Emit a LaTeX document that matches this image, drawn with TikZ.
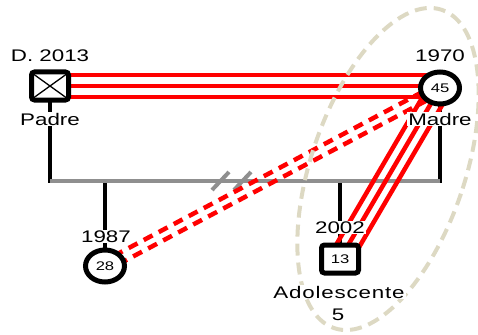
\documentclass[tikz,border=0pt]{standalone}
\usepackage{fontspec}
\setmainfont{Liberation Sans}[FakeStretch=1.33]
\usetikzlibrary{calc,shapes.geometric,backgrounds}

\definecolor{relred}{HTML}{FF0000}
\definecolor{linegray}{HTML}{8F8F8F}
\definecolor{zonetan}{HTML}{DDD9C3}

\tikzset{
  male/.style={draw=black, fill=white, line width=5pt, rectangle, rounded corners=3pt,
    minimum width=37pt, minimum height=28pt, inner sep=0pt,
    font=\fontsize{12.5}{14}\selectfont},
  female/.style={draw=black, fill=white, line width=5pt, ellipse,
    minimum width=39pt, minimum height=32pt, inner sep=0pt,
    font=\fontsize{12.5}{14}\selectfont},
  lbl/.style={fill=white, inner sep=1pt, font=\fontsize{16.8}{19}\selectfont},
  plainlbl/.style={inner sep=1pt, font=\fontsize{16.8}{19}\selectfont},
  kin/.style={draw=black, line width=4pt},
  sibline/.style={draw=linegray, line width=4pt},
  bond/.style={draw=relred, line width=4.5pt},
  weakbond/.style={draw=relred, line width=4.5pt, dash pattern=on 10pt off 7pt},
  zone/.style={draw=zonetan, line width=4pt, dash pattern=on 12pt off 7pt},
}

\begin{document}
\begin{tikzpicture}[x=1pt, y=-1pt]
  \useasboundingbox (0,0) rectangle (478,334);

  % family members
  \node[male]   (padre) at (50,86)   {};
  \node[female] (madre) at (440,88)  {45};
  \node[female] (hija)  at (105,266) {28};
  \node[male]   (hijo)  at (340,259) {13};

  % deceased mark in the father's box
  \draw[line width=1.3pt] ($(padre.center)+(-16,-11.5)$) -- ($(padre.center)+(16,11.5)$);
  \draw[line width=1.3pt] ($(padre.center)+(-16,11.5)$) -- ($(padre.center)+(16,-11.5)$);

  % junction points on the sibling line
  \coordinate (jl) at (50,181);
  \coordinate (jr) at (440,181);
  \coordinate (jhija) at (105,181);
  \coordinate (jhijo) at (340,181);

  \begin{pgfonlayer}{background}
    % descent lines
    \draw[kin] (padre.center) -- ($(jl)+(0,2)$);
    \draw[kin] (madre.center) -- ($(jr)+(0,2)$);
    \draw[kin] (jhija) -- (hija.center);
    \draw[kin] (jhijo) -- (hijo.center);
    \draw[sibline] (jl) -- (jr);
    % separation marks
    \draw[sibline] (212,190) -- (229,172);
    \draw[sibline] (234,190) -- (251,172);

    % father -- mother: close bond (three horizontal lines)
    \foreach \o in {-10.75,0,10.75} {
      \draw[bond] ($(padre.center)+(0,\o)$) -- ($(madre.center |- padre.center)+(0,\o)$);
    }
    % mother -- son: close bond (three lines)
    \foreach \o in {-10.5,0,10.5} {
      \draw[bond] ($(madre.center)!\o pt!90:(hijo.center)$) -- ($(hijo.center)!\o pt!-90:(madre.center)$);
    }
    % mother -- daughter: weak bond (two dashed lines)
    \foreach \o in {-4.75,4.75} {
      \draw[weakbond] ($(madre.center)!\o pt!90:(hija.center)$) -- ($(hija.center)!\o pt!-90:(madre.center)$);
    }
  \end{pgfonlayer}

  % household boundary
  \draw[zone, rotate around={-18.7:(388,169)}] (388,169) ellipse [x radius=77, y radius=168];

  % labels
  \node[lbl] (lpadre) at (50,56)  {D. 2013};
  \node[lbl] (npadre) at (50,119) {Padre};
  \node[lbl] (lmadre) at (440,56) {1970};
  \node[lbl] (nmadre) at (440,119) {Madre};
  \node[lbl] (lhija)  at (106,236.5) {1987};
  \node[lbl] (lhijo)  at (340,227.5) {2002};
  \node[lbl] (nhijo)  at (339,292) {\addfontfeatures{LetterSpace=5}Adolescente};
  \node[plainlbl] (ehijo) at (338,315) {5};
\end{tikzpicture}
\end{document}
